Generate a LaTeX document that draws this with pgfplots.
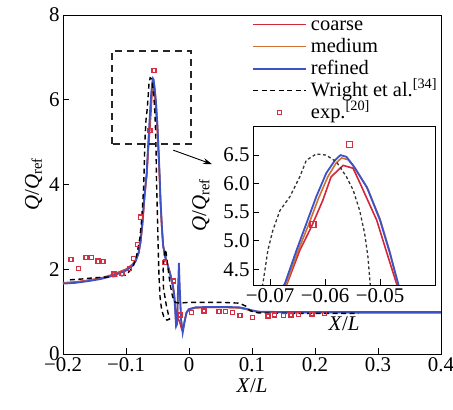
\documentclass[border=0pt]{standalone}
\usepackage{fontspec}
\setmainfont{Liberation Serif}
\usepackage{pgfplots}
\pgfplotsset{compat=1.18}
\usepackage{pgfplotstable}
\usetikzlibrary{arrows.meta}

\definecolor{coarsec}{RGB}{212,38,58}
\definecolor{mediumc}{RGB}{205,112,48}
\definecolor{refinedc}{RGB}{62,82,200}
\definecolor{expc}{RGB}{212,48,68}

\pgfplotstableread{
x y
-0.200 1.66
-0.180 1.68
-0.160 1.72
-0.140 1.77
-0.120 1.85
-0.100 1.97
-0.090 2.08
-0.085 2.18
-0.080 2.38
-0.077 2.65
-0.074 3.10
-0.071 3.70
-0.0690 4.00
-0.0673 4.25
-0.0652 4.83
-0.0634 5.30
-0.0616 5.77
-0.0598 6.18
-0.0582 6.41
-0.0572 6.50
-0.0561 6.47
-0.0549 6.32
-0.0524 5.94
-0.0500 5.36
-0.0482 4.78
-0.0467 4.25
-0.0450 3.55
-0.0430 3.00
-0.0410 2.55
-0.0380 2.30
-0.0340 2.10
-0.0300 1.90
-0.0260 1.65
-0.0235 1.40
-0.0220 1.05
-0.0205 0.65
-0.0190 0.70
-0.0175 1.50
-0.0160 2.15
-0.0145 1.50
-0.0125 0.80
-0.0100 0.50
-0.0075 0.72
-0.0040 0.98
0.0000 1.06
0.0100 1.10
0.0300 1.11
0.0600 1.11
0.0800 1.10
0.0900 1.07
0.1000 1.03
0.1100 1.00
0.1500 0.99
0.2000 0.99
0.3000 0.99
0.4000 0.99
}\refined

\pgfplotstableread{
x y
-0.200 1.67
-0.180 1.69
-0.160 1.73
-0.140 1.78
-0.120 1.86
-0.100 1.98
-0.090 2.09
-0.085 2.19
-0.080 2.38
-0.077 2.64
-0.074 3.08
-0.071 3.68
-0.0688 4.00
-0.0670 4.25
-0.0650 4.80
-0.0630 5.28
-0.0612 5.74
-0.0595 6.12
-0.0580 6.36
-0.0570 6.45
-0.0558 6.42
-0.0545 6.27
-0.0522 5.90
-0.0500 5.38
-0.0482 4.80
-0.0468 4.25
-0.0450 3.55
-0.0430 3.00
-0.0410 2.56
-0.0380 2.31
-0.0340 2.11
-0.0300 1.90
-0.0260 1.64
-0.0235 1.38
-0.0220 1.05
-0.0205 0.70
-0.0190 0.75
-0.0175 1.35
-0.0160 1.85
-0.0145 1.35
-0.0125 0.80
-0.0100 0.55
-0.0075 0.74
-0.0040 0.98
0.0000 1.05
0.0100 1.09
0.0300 1.10
0.0600 1.10
0.0800 1.09
0.0900 1.06
0.1000 1.02
0.1100 0.99
0.1500 0.98
0.2000 0.98
0.3000 0.98
0.4000 0.98
}\medium

\pgfplotstableread{
x y
-0.200 1.68
-0.180 1.70
-0.160 1.74
-0.140 1.79
-0.120 1.88
-0.100 2.00
-0.090 2.11
-0.085 2.21
-0.080 2.39
-0.077 2.62
-0.074 3.02
-0.071 3.60
-0.0686 4.00
-0.0669 4.25
-0.0646 4.83
-0.0625 5.24
-0.0604 5.71
-0.0589 6.12
-0.0567 6.32
-0.0549 6.27
-0.0536 6.00
-0.0506 5.36
-0.0488 4.80
-0.0470 4.25
-0.0452 3.55
-0.0432 3.00
-0.0412 2.57
-0.0380 2.32
-0.0340 2.12
-0.0300 1.90
-0.0260 1.64
-0.0240 1.45
-0.0215 1.10
-0.0185 0.85
-0.0160 0.80
-0.0140 0.72
-0.0115 0.58
-0.0090 0.62
-0.0060 0.85
-0.0030 1.00
0.0000 1.05
0.0100 1.09
0.0300 1.10
0.0600 1.10
0.0800 1.09
0.0900 1.06
0.1000 1.02
0.1100 0.99
0.1500 0.98
0.2000 0.98
0.3000 0.97
0.4000 0.97
}\coarse

\pgfplotstableread{
x y
-0.189 1.75
-0.170 1.77
-0.150 1.80
-0.125 1.82
-0.100 1.86
-0.089 2.05
-0.083 2.33
-0.078 2.73
-0.075 3.20
-0.0725 3.80
-0.0713 4.25
-0.0704 4.83
-0.0695 5.18
-0.0682 5.53
-0.0664 5.77
-0.0646 6.12
-0.0634 6.41
-0.0616 6.52
-0.0598 6.50
-0.0579 6.38
-0.0561 6.12
-0.0549 5.89
-0.0537 5.53
-0.0528 5.13
-0.0522 4.72
-0.0518 4.25
-0.0505 3.50
-0.0492 2.70
-0.0478 1.90
-0.0460 1.35
-0.0435 1.05
-0.0400 0.88
-0.0350 0.80
-0.0310 0.82
-0.0360 1.15
-0.0405 1.55
-0.0410 2.00
-0.0390 2.35
-0.0370 2.47
-0.0340 2.10
-0.0300 1.65
-0.0260 1.35
-0.0220 1.22
-0.0150 1.20
0.0000 1.22
0.0500 1.22
0.0800 1.20
0.0900 1.13
0.0970 1.02
0.1100 0.97
0.1500 0.96
0.2000 0.96
0.2690 0.96
}\wright

\pgfplotstableread{
x y
-0.1873 2.233
-0.1751 2.020
-0.1635 2.272
-0.1545 2.280
-0.1444 2.193
-0.1365 2.186
-0.1190 1.887
-0.1063 1.903
-0.0947 2.020
-0.0884 2.256
-0.0820 2.587
-0.0772 3.231
-0.0622 5.280
-0.0556 6.690
-0.0386 2.154
-0.0249 1.722
-0.0132 0.920
0.0042 0.983
0.0238 1.014
0.0476 1.006
0.0582 1.006
0.0693 0.975
0.0810 0.912
0.1011 0.857
0.1254 0.896
0.1354 0.920
0.1497 0.912
0.1619 0.920
0.1735 0.936
0.1952 0.943
0.2153 0.959
}\expdata

\pgfplotsset{
  every axis/.append style={
    font=\fontsize{21}{24}\selectfont,
    tick label style={font=\fontsize{21}{24}\selectfont},
    label style={font=\fontsize{21}{24}\selectfont},
    axis line style={line width=0.9bp},
    tick style={line width=0.9bp, black},
    major tick length=6bp,
    /pgf/number format/assume math mode=true,
  },
}

\begin{document}
\begin{tikzpicture}
\begin{axis}[
  name=main,
  scale only axis,
  width=378bp, height=339bp,
  xmin=-0.2, xmax=0.4, ymin=0, ymax=8,
  xtick={-0.2,-0.1,0,0.1,0.2,0.3,0.4},
  xticklabels={−0.2,−0.1,0,0.1,0.2,0.3,0.4},
  ytick={0,2,4,6,8},
  xtick pos=bottom, ytick pos=left,
  xlabel={\textit{X}/\textit{L}},
  ylabel={\textit{Q}/\textit{Q}\textsubscript{ref}},
  legend image code/.code={\draw[mark repeat=2,mark phase=2,#1] plot coordinates {(0bp,0bp) (26.5bp,0bp) (53bp,0bp)};},
  legend style={draw=none, fill=none, at={(0.5,1)}, anchor=north west,
    inner sep=0pt, column sep=4bp, row sep=3bp, legend cell align=left,
    nodes={inner sep=0pt, text height=15bp, text depth=4bp},
    font=\fontsize{20.5}{23}\selectfont},
]
\addplot[coarsec, line width=1.6bp] table {\coarse};
\addlegendentry{coarse}
\addplot[mediumc, line width=1.6bp] table {\medium};
\addlegendentry{medium}
\addplot[refinedc, line width=1.8bp] table {\refined};
\addlegendentry{refined}
\addplot[black, line width=1.4bp, dash pattern=on 5bp off 3.5bp] table {\wright};
\addlegendentry{Wright et al.\textsuperscript{[34]}}
\addplot[only marks, mark=square, mark size=2.1bp, mark options={expc, line width=1.3bp}] table {\expdata};
\addlegendentry{exp.\textsuperscript{[20]}}
\draw[black!85, line width=2.3bp, dash pattern=on 7bp off 5bp] (axis cs:-0.122,4.95) rectangle (axis cs:0.003,7.15);
\draw[black, line width=0.9bp, -{Stealth[length=9bp,width=6bp]}] (axis cs:-0.025,4.81) -- (axis cs:0.0365,4.48);
\end{axis}

\begin{axis}[
  at={(190bp,69bp)}, anchor=south west,
  scale only axis,
  width=182bp, height=159bp,
  xmin=-0.0731, xmax=-0.0400, ymin=4.225, ymax=7.01,
  scaled x ticks=false, scaled y ticks=false,
  xtick={-0.07,-0.06,-0.05},
  xticklabels={−0.07,−0.06,−0.05},
  ytick={4.5,5,5.5,6,6.5},
  yticklabels={4.5,5.0,5.5,6.0,6.5},
  xtick pos=bottom, ytick pos=left,
  axis background/.style={fill=white},
  xlabel={\textit{X}/\textit{L}},
  ylabel={\textit{Q}/\textit{Q}\textsubscript{ref}},
  xlabel style={yshift=-7bp},
  ylabel style={yshift=7bp},
]
\addplot[coarsec, line width=1.6bp] table {\coarse};
\addplot[mediumc, line width=1.6bp] table {\medium};
\addplot[refinedc, line width=1.8bp] table {\refined};
\addplot[black!80, line width=1.3bp, dash pattern=on 3bp off 2.5bp] table {\wright};
\addplot[only marks, mark=square, mark size=3bp, mark options={expc, line width=1.3bp}] table {\expdata};
\end{axis}

\pgfresetboundingbox
\path (main.south west) ++(-63bp,-56bp) rectangle ++(453bp,410bp);
\end{tikzpicture}
\end{document}
